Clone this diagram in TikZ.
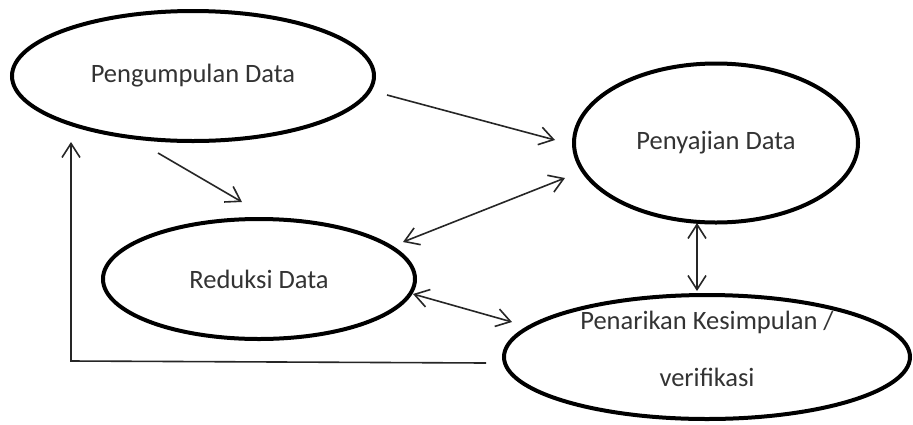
\documentclass[tikz,border=0pt]{standalone}
\usepackage{fontspec}
\setmainfont{Carlito}
\usetikzlibrary{shapes.geometric,arrows.meta}
\begin{document}
\begin{tikzpicture}[x=1pt,y=-1pt,
  stage/.style={ellipse,draw=black,line width=4pt,inner sep=0pt,align=center,
    font=\fontsize{26.5}{32}\selectfont,text=black!80},
  conn/.style={line width=1.6pt,draw=black!85},
  tip/.style={-{Straight Barb[length=14pt,width=18pt,line width=1.6pt]}},
  tips/.style={{Straight Barb[length=14pt,width=18pt,line width=1.6pt]}-{Straight Barb[length=14pt,width=18pt,line width=1.6pt]}}]
\useasboundingbox (0,0) rectangle (913,424);
\fill[white] (0,0) rectangle (913,424);

\node[stage,minimum width=362pt,minimum height=130pt] (peng) at (193,76) {Pengumpulan Data};
\node[stage,minimum width=284pt,minimum height=159pt] (saji) at (716,143) {Penyajian Data};
\node[stage,minimum width=312pt,minimum height=120pt] (redu) at (259,279) {Reduksi Data};
\node[stage,minimum width=406pt,minimum height=124pt] (tarik) at (707,357)
  {\raisebox{-2pt}{\smash{\begin{tabular}{@{}c@{}}Penarikan Kesimpulan /\\[25pt]verifikasi\end{tabular}}}};

\coordinate (a1s) at (158,153); \coordinate (a1e) at (242,202);
\coordinate (a2s) at (387,95);  \coordinate (a2e) at (555,140);
\coordinate (a3s) at (565,178); \coordinate (a3e) at (403,242);
\coordinate (a4s) at (697,223); \coordinate (a4e) at (697,291);
\coordinate (a5s) at (413,294); \coordinate (a5e) at (512,322);
\coordinate (f0) at (486,363);  \coordinate (f1) at (71,361); \coordinate (f2) at (71,142);

\draw[conn,tip] (a1s) -- (a1e);
\draw[conn,tip] (a2s) -- (a2e);
\draw[conn,tips] (a3s) -- (a3e);
\draw[conn,tips] (a4s) -- (a4e);
\draw[conn,tips] (a5s) -- (a5e);
\draw[conn,tip] (f0) -- (f1) -- (f2);
\end{tikzpicture}
\end{document}
